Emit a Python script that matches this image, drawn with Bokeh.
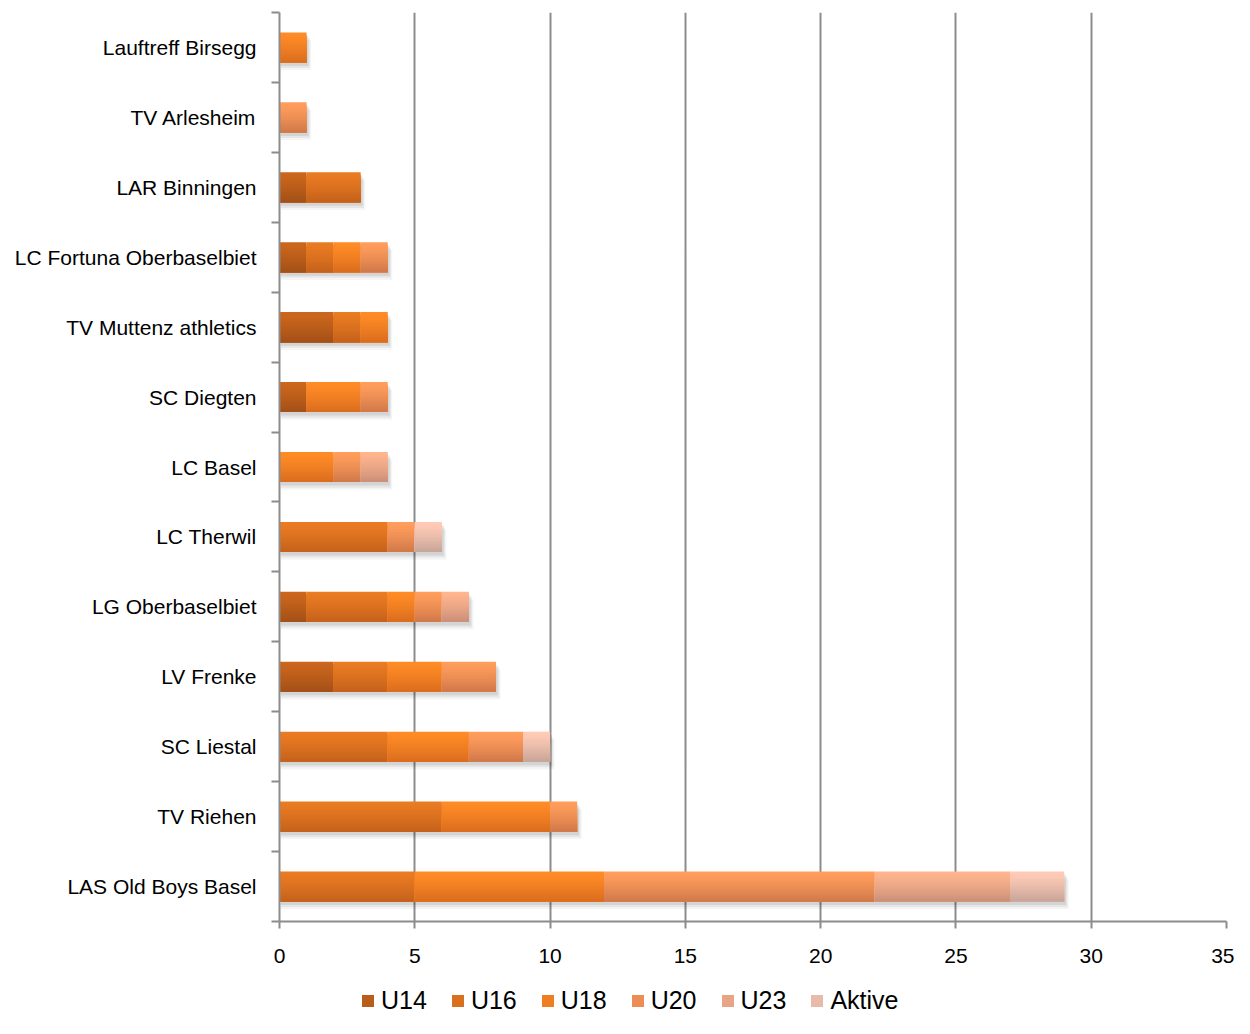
from bokeh.plotting import figure
from bokeh.models import ColumnDataSource, FixedTicker, Legend, LegendItem
from bokeh.layouts import column
from bokeh.embed import file_html
from bokeh.resources import INLINE

# ---- data (bottom to top) ----
clubs = ["LAS Old Boys Basel", "TV Riehen", "SC Liestal", "LV Frenke", "LG Oberbaselbiet",
         "LC Therwil", "LC Basel", "SC Diegten", "TV Muttenz athletics",
         "LC Fortuna Oberbaselbiet", "LAR Binningen", "TV Arlesheim", "Lauftreff Birsegg"]
series_names = ["U14", "U16", "U18", "U20", "U23", "Aktive"]
U14 = [0, 0, 0, 2, 1, 0, 0, 1, 2, 1, 1, 0, 0]
U16 = [5, 6, 4, 2, 3, 4, 0, 0, 1, 1, 2, 0, 0]
U18 = [7, 4, 3, 2, 1, 0, 2, 2, 1, 1, 0, 0, 1]
U20 = [10, 1, 2, 2, 1, 1, 1, 1, 0, 1, 0, 1, 0]
U23 = [5, 0, 0, 0, 1, 0, 1, 0, 0, 0, 0, 0, 0]
Aktive = [2, 0, 1, 0, 0, 1, 0, 0, 0, 0, 0, 0, 0]
x_ticks = [0, 5, 10, 15, 20, 25, 30, 35]

series = [U14, U16, U18, U20, U23, Aktive]
top_colors = ["#CB661C", "#E97B22", "#FF8B26", "#FF9D5C", "#FFB58E", "#FFCBB6"]
bot_colors = ["#A45118", "#C6621C", "#DB6E1E", "#D27A4A", "#CC917A", "#C9A69A"]

FONT = "Liberation Sans"
GRAY = "#8c8c8c"
BAR_H = 0.43
K = 12


def hex2rgb(h):
    h = h.lstrip("#")
    return tuple(int(h[i:i + 2], 16) for i in (0, 2, 4))


def lerp(c1, c2, t):
    a, b = hex2rgb(c1), hex2rgb(c2)
    return "#%02x%02x%02x" % tuple(int(round(a[i] + (b[i] - a[i]) * t)) for i in range(3))


p = figure(width=1234, height=982, x_range=(0, 35), y_range=(-0.5, 12.5),
           output_backend="svg", toolbar_location=None,
           min_border_left=279, min_border_right=8, min_border_top=12, min_border_bottom=61)
p.outline_line_color = None
p.background_fill_color = "white"
p.border_fill_color = "white"

pos = list(range(len(clubs)))
totals = [sum(s[i] for s in series) for i in pos]

# soft shadow
for dy, dx, a in [(0.11, 0.17, 0.04), (0.08, 0.12, 0.06), (0.05, 0.07, 0.08)]:
    src = ColumnDataSource(dict(y=[y - dy for y in pos], left=[0.05] * len(pos),
                                right=[t + dx for t in totals]))
    p.hbar(y="y", left="left", right="right", height=BAR_H, source=src,
           fill_color="black", fill_alpha=a, line_color=None)

mid_colors = []
cum = [0] * len(pos)
for si, (name, vals) in enumerate(zip(series_names, series)):
    left = cum[:]
    right = [cum[i] + vals[i] for i in pos]
    cum = right
    for k in range(K):
        t = (k / (K - 1)) ** 1.3
        col = lerp(top_colors[si], bot_colors[si], t)
        # layer k spans from its own top edge down to the bar's bottom edge
        h = BAR_H * (K - k) / K
        yc = [y - BAR_H / 2 + h / 2 for y in pos]
        src = ColumnDataSource(dict(y=yc, left=left, right=right))
        p.hbar(y="y", left="left", right="right", height=h, source=src,
               fill_color=col, line_color=None)
    mid_colors.append(lerp(top_colors[si], bot_colors[si], 0.45))

# axes
p.xaxis.ticker = FixedTicker(ticks=x_ticks, minor_ticks=[])
p.xaxis.axis_line_color = GRAY
p.xaxis.axis_line_width = 2
p.xaxis.major_tick_line_color = GRAY
p.xaxis.major_tick_line_width = 2
p.xaxis.major_tick_out = 7
p.xaxis.major_tick_in = 0
p.xaxis.minor_tick_line_color = None
p.xaxis.major_label_text_font = FONT
p.xaxis.major_label_text_font_size = "21px"
p.xaxis.major_label_text_color = "black"
p.xaxis.major_label_standoff = 20

p.yaxis.ticker = FixedTicker(ticks=pos, minor_ticks=[i - 0.5 for i in range(len(clubs) + 1)])
p.yaxis.major_label_overrides = {i: c for i, c in enumerate(clubs)}
p.yaxis.axis_line_color = GRAY
p.yaxis.axis_line_width = 2
p.yaxis.major_tick_line_color = None
p.yaxis.major_tick_in = 0
p.yaxis.major_tick_out = 0
p.yaxis.minor_tick_line_color = GRAY
p.yaxis.minor_tick_line_width = 2
p.yaxis.minor_tick_out = 8
p.yaxis.minor_tick_in = 0
p.yaxis.major_label_text_font = FONT
p.yaxis.major_label_text_font_size = "21px"
p.yaxis.major_label_text_color = "black"
p.yaxis.major_label_standoff = 15

p.xgrid.ticker = FixedTicker(ticks=x_ticks)
p.xgrid.grid_line_color = GRAY
p.xgrid.grid_line_width = 2
p.ygrid.grid_line_color = None

# ---- legend strip (keys only; its dummy bars sit outside the visible range) ----
lg = figure(width=1234, height=36, x_range=(0, 1), y_range=(0, 1),
            output_backend="svg", toolbar_location=None,
            min_border_left=0, min_border_right=0, min_border_top=0, min_border_bottom=0)
lg.axis.visible = False
lg.grid.grid_line_color = None
lg.outline_line_color = None
items = []
for name, col in zip(series_names, mid_colors):
    r = lg.hbar(y=[-5], left=[0], right=[0.1], height=0.5, fill_color=col, line_color=None)
    items.append(LegendItem(label=name, renderers=[r]))
legend = Legend(items=items, orientation="horizontal", location=(81, 3),
                label_text_font=FONT, label_text_font_size="25px", label_text_color="black",
                glyph_width=15, glyph_height=15, label_standoff=6, spacing=23,
                padding=0, margin=0, border_line_color=None, background_fill_alpha=0,
                label_height=28)
lg.add_layout(legend, "center")

layout = column(p, lg, spacing=0)
open("out.html", "w").write(file_html(layout, INLINE))
